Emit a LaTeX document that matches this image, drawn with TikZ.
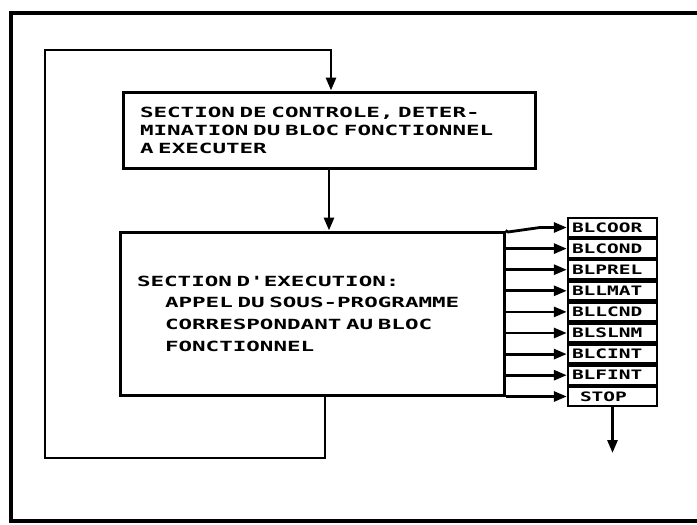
\documentclass[tikz,border=0pt]{standalone}
\usepackage{fontspec}
\usetikzlibrary{arrows.meta}
\newfontfamily\boxfont[FakeStretch=1.61]{DejaVu Sans Mono Bold}
\newfontfamily\labfont[FakeStretch=1.5]{DejaVu Sans Mono Bold}
\begin{document}
\begin{tikzpicture}[x=1pt,y=-1pt,
  box/.style={draw, line width=3pt, rectangle, align=left, inner ysep=0pt},
  lab/.style={draw, line width=2.4pt, minimum width=89pt, minimum height=19pt,
    inner sep=0pt, text width=81pt, align=left,
    font=\labfont\fontsize{13}{13}\selectfont},
  wire/.style={line width=2.8pt},
  arr/.style={wire, -{Triangle[length=13pt,width=10pt]}},
  frame/.style={line width=3.6pt}
]
\useasboundingbox (0,0) rectangle (697,525);
% outer frame
\coordinate (fTR) at (700,13);
\coordinate (fTL) at (11,13);
\coordinate (fBL) at (11,521);
\coordinate (fBR) at (700,521);
\draw[frame] (fTR) -- (fTL) -- (fBL) -- (fBR);

% boxes
\node[box, minimum width=412pt, minimum height=76pt, text width=378pt, inner xsep=17pt,
  font=\boxfont\fontsize{14}{18}\selectfont] (box1) at (329,130)
  {SECTION DE CONTROLE, DETER-\\MINATION DU BLOC FONCTIONNEL\\A EXECUTER};
\node[box, minimum width=384pt, minimum height=163pt, text width=350pt, inner xsep=17pt,
  font=\boxfont\fontsize{14}{21.7}\selectfont] (box2) at (312,313.5)
  {SECTION D'EXECUTION:\\
   \hspace*{28pt}APPEL DU SOUS-PROGRAMME\\
   \hspace*{28pt}CORRESPONDANT AU BLOC\\
   \hspace*{28pt}FONCTIONNEL};

% label stack
\node[lab] (l1) at (612.5,227.5) {BLCOOR};
\node[lab] (l2) at (612.5,248.6) {BLCOND};
\node[lab] (l3) at (612.5,269.7) {BLPREL};
\node[lab] (l4) at (612.5,290.8) {BLLMAT};
\node[lab] (l5) at (612.5,311.9) {BLLCND};
\node[lab] (l6) at (612.5,333.0) {BLSLNM};
\node[lab] (l7) at (612.5,354.1) {BLCINT};
\node[lab] (l8) at (612.5,375.2) {BLFINT};
\node[lab] (l9) at (612.5,396.3) {\hspace*{8pt}STOP};

% branch arrows
\coordinate (bend1) at (508,232);
\coordinate (bend2) at (540,227.5);
\draw[arr] (box2.north east) -- (bend1) -- (bend2) -- (l1.west);
\foreach \i in {2,...,8} {
  \draw[arr] (box2.east |- l\i.west) -- (l\i.west);
}
\draw[arr] (box2.south east) -- (l9.west |- box2.south east);

% stop arrow
\coordinate (stopEnd) at (612.5,453);
\draw[arr] (l9.south) -- (stopEnd);

% main flow
\draw[arr] (box1.south) -- (box1.south |- box2.north);
\coordinate (loopBR) at (325,458);
\coordinate (loopBL) at (45,458);
\coordinate (loopTL) at (45,50);
\coordinate (loopTR) at (331,50);
\draw[arr] (box2.south -| loopBR) -- (loopBR) -- (loopBL) -- (loopTL) -- (loopTR)
  -- (box1.north -| loopTR);
\end{tikzpicture}
\end{document}
